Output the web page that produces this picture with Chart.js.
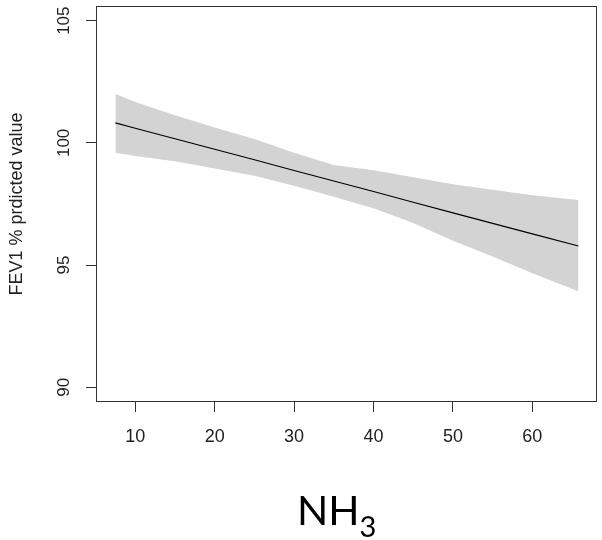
<!DOCTYPE html>
<html>
<head>
<meta charset="utf-8">
<title>FEV1 vs NH3</title>
<script src="https://cdn.jsdelivr.net/npm/chart.js@4.4.1/dist/chart.umd.min.js"></script>
<style>
  html, body { margin: 0; padding: 0; background: #fff; }
  #wrap { position: relative; width: 602px; height: 540px; }
  #xlab {
    position: absolute; left: 297px; top: 489px;
    font-family: Lato, "Open Sans", sans-serif; font-size: 41px; line-height: 41px;
    color: #000; white-space: nowrap;
  }
  #xlab sub { font-size: 29px; vertical-align: -12px; line-height: 0; }
</style>
</head>
<body>
<div id="wrap">
  <canvas id="c" width="602" height="540"></canvas>
  <div id="xlab">NH<sub>3</sub></div>
</div>
<script>
"use strict";

// --- données ---
const nh3     = [7.5, 10, 15, 20, 25, 30, 35, 40, 45, 50, 55, 60, 65.8];
const fevFit  = [100.82, 100.60, 100.17, 99.74, 99.31, 98.87, 98.44, 98.01, 97.57, 97.14, 96.71, 96.28, 95.78];
const ciUpper = [102.00, 101.67, 101.13, 100.63, 100.16, 99.60, 99.10, 98.88, 98.59, 98.31, 98.08, 97.86, 97.66];
const ciLower = [99.60, 99.46, 99.25, 98.95, 98.66, 98.25, 97.80, 97.33, 96.72, 96.00, 95.35, 94.67, 93.93];

const X_MIN = 5.06, X_MAX = 68.14;
const Y_MIN = 89.4, Y_MAX = 105.6;

const TXT = "#222";
const AXE = "#333";
const FONT = '"Liberation Sans", Arial, sans-serif';

function pts(xs, ys) {
    return xs.map((x, i) => ({ x, y: ys[i] }));
}

// cadre + étiquettes Y verticales (style R)
const cadreR = {
    id: "cadreR",
    afterDraw(chart) {
        const { ctx, chartArea: a, scales: { y } } = chart;
        ctx.save();
        ctx.strokeStyle = AXE;
        ctx.lineWidth = 1;
        ctx.strokeRect(a.left + 0.5, a.top + 0.5, a.right - a.left - 1, a.bottom - a.top - 1);

        ctx.fillStyle = TXT;
        ctx.font = "17px " + FONT;
        ctx.textAlign = "center";
        ctx.textBaseline = "middle";
        y.ticks.forEach(t => {
            const py = y.getPixelForValue(t.value);
            ctx.save();
            ctx.translate(64, py);
            ctx.rotate(-Math.PI / 2);
            ctx.fillText(String(t.value), 0, 0);
            ctx.restore();
        });
        ctx.restore();
    }
};

new Chart(document.getElementById("c"), {
    type: "line",
    data: {
        datasets: [
            // la droite d'ajustement en premier : Chart.js dessine l'index 0 au-dessus
            {
                label: "Ajustement",
                data: pts(nh3, fevFit),
                borderColor: "#000", borderWidth: 1.2,
                pointRadius: 0, tension: 0, fill: false
            },
            {
                label: "IC sup",
                data: pts(nh3, ciUpper),
                borderWidth: 0, borderColor: "rgba(0,0,0,0)",
                pointRadius: 0, tension: 0,
                fill: "+1", backgroundColor: "#d3d3d3"
            },
            {
                label: "IC inf",
                data: pts(nh3, ciLower),
                borderWidth: 0, borderColor: "rgba(0,0,0,0)",
                pointRadius: 0, tension: 0, fill: false
            }
        ]
    },
    options: {
        responsive: false,
        animation: false,
        events: [],
        layout: { padding: { top: 6, right: 5, left: 0, bottom: 0 } },
        plugins: { legend: { display: false }, tooltip: { enabled: false } },
        scales: {
            x: {
                type: "linear", min: X_MIN, max: X_MAX,
                afterFit: s => { s.height = 138; },
                border: { display: false },
                grid: { drawOnChartArea: false, drawTicks: true, tickLength: 10, color: AXE, lineWidth: 1 },
                ticks: {
                    stepSize: 10, includeBounds: false, padding: 14,
                    color: TXT, font: { family: FONT, size: 18 },
                    maxRotation: 0, autoSkip: false
                }
            },
            y: {
                min: Y_MIN, max: Y_MAX,
                afterFit: s => { s.width = 96; },
                border: { display: false },
                grid: { drawOnChartArea: false, drawTicks: true, tickLength: 10, color: AXE, lineWidth: 1 },
                ticks: { stepSize: 5, includeBounds: false, display: false },
                title: {
                    display: true, text: "FEV1 % prdicted value",
                    color: TXT, font: { family: FONT, size: 18 },
                    padding: { top: 6, bottom: 0 }
                }
            }
        }
    },
    plugins: [cadreR]
});
</script>
</body>
</html>
